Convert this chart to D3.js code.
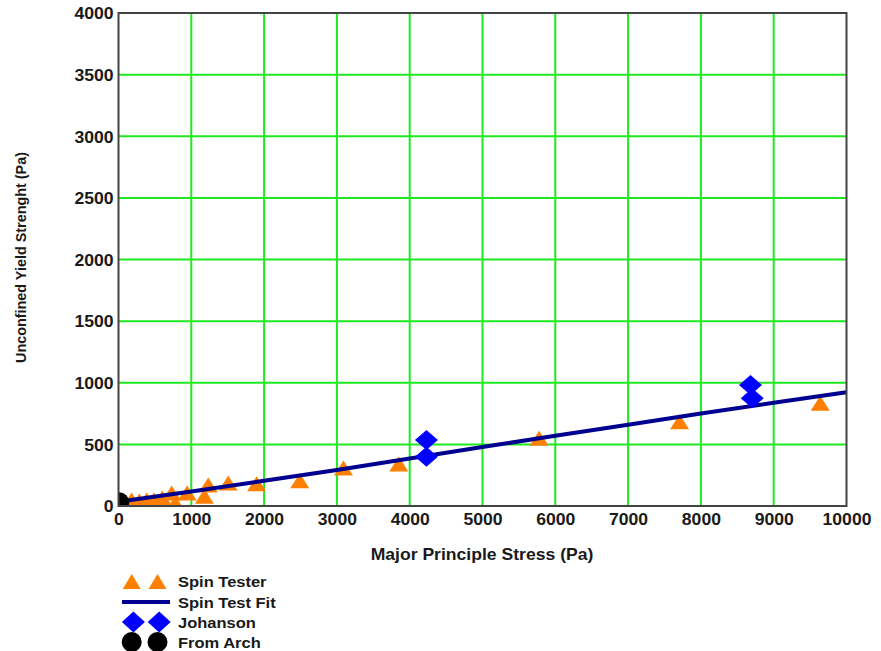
<!DOCTYPE html>
<html>
<head>
<meta charset="utf-8">
<script src="https://cdn.jsdelivr.net/npm/d3@7"></script>
<style>
  body { margin: 0; background: #fff; }
  text { font-family: "Liberation Sans", Arial, sans-serif; font-weight: bold; fill: #1a1a1a; }
</style>
</head>
<body>
<svg id="mainSvg" width="881" height="651"></svg>
<script>
// data
var xTicks = [0, 1000, 2000, 3000, 4000, 5000, 6000, 7000, 8000, 9000, 10000];
var yTicks = [0, 500, 1000, 1500, 2000, 2500, 3000, 3500, 4000];

var spinX = [180, 285, 387, 487, 601, 730, 780, 944, 1180, 1233, 1507, 1897, 2490, 3090, 3850, 5777, 7707, 9639];
var spinY = [49, 41, 49, 49, 65, 105, 25, 105, 80, 170, 187, 180, 205, 308, 341, 549, 684, 834];

var fitX = [0, 1000, 2000, 3000, 4000, 5000, 6000, 7000, 8000, 9000, 10000];
var fitY = [35, 118, 205, 292, 385, 478, 570, 660, 750, 838, 923];

var johX = [4230, 4230, 8681, 8705];
var johY = [535, 400, 982, 874];

var archX = [10];
var archY = [30];

var legendNames = ["Spin Tester", "Spin Test Fit", "Johanson", "From Arch"];

var orange = "#ff8000", navy = "#000090", blue = "#0000ff", green = "#1ee81e";

var svg = d3.select("#mainSvg");
var plotL = 118.5, plotR = 846.5, plotT = 13, plotB = 506;
var x = d3.scaleLinear().domain([0, 10000]).range([plotL, plotR]);
var y = d3.scaleLinear().domain([0, 4000]).range([plotB, plotT]);

//marker paths, centred on 0,0
function triPath(w, h) { return "M0," + (-h / 2) + "L" + (w / 2) + "," + (h / 2) + "L" + (-w / 2) + "," + (h / 2) + "Z"; }
function diaPath(w, h) { return "M0," + (-h / 2) + "L" + (w / 2) + ",0L0," + (h / 2) + "L" + (-w / 2) + ",0Z"; }

//text helper, fonts in the picture are a bit stretched sideways
function label(g, tx, ty, str, anchor, size) {
    return g.append("text").attr("transform", "translate(" + tx + "," + ty + ") scale(1.1,1)")
        .attr("text-anchor", anchor).style("font-size", size + "px").text(str);
}

svg.append("defs").append("clipPath").attr("id", "plotClip")
    .append("rect").attr("x", plotL).attr("y", plotT).attr("width", plotR - plotL).attr("height", plotB - plotT);

//grid
var grid = svg.append("g");
grid.selectAll(".gx").data(xTicks.slice(1, -1)).enter().append("line")
    .attr("x1", function (d) { return x(d); }).attr("x2", function (d) { return x(d); })
    .attr("y1", plotT).attr("y2", plotB).style("stroke", green).style("stroke-width", 2);
grid.selectAll(".gy").data(yTicks.slice(1, -1)).enter().append("line")
    .attr("y1", function (d) { return y(d); }).attr("y2", function (d) { return y(d); })
    .attr("x1", plotL).attr("x2", plotR).style("stroke", green).style("stroke-width", 2);

//axes, only labels (no tick marks in the picture)
var xAxis = d3.axisBottom(x).tickValues(xTicks).tickSize(0).tickPadding(8).tickFormat(d3.format("d"));
var yAxis = d3.axisLeft(y).tickValues(yTicks).tickSize(0).tickPadding(6).tickFormat(d3.format("d"));
var gx = svg.append("g").attr("transform", "translate(0," + plotB + ")").call(xAxis);
var gy = svg.append("g").attr("transform", "translate(" + plotL + ",0)").call(yAxis);
[gx, gy].forEach(function (g) {
    g.select(".domain").remove();
    g.selectAll("text").style("font-family", "Liberation Sans, Arial, sans-serif").style("font-weight", "bold")
        .style("font-size", "16px").attr("fill", "#1a1a1a");
});
gx.selectAll(".tick text").attr("y", 8).attr("dy", "0.71em").attr("transform", "scale(1.1,1)");
gy.selectAll(".tick text").attr("x", 0).attr("dy", "0.36em").attr("transform", "translate(-5,0) scale(1.1,1)");

//data layer
var plot = svg.append("g").attr("clip-path", "url(#plotClip)");
var spinData = spinX.map(function (d, i) { return {x: d, y: spinY[i]}; });
plot.selectAll(".spin").data(spinData).enter().append("path")
    .attr("d", triPath(19, 15))
    .attr("transform", function (d) { return "translate(" + x(d.x) + "," + y(d.y) + ")"; })
    .style("fill", orange);

var fitData = fitX.map(function (d, i) { return {x: d, y: fitY[i]}; });
plot.append("path").datum(fitData)
    .attr("d", d3.line().x(function (d) { return x(d.x); }).y(function (d) { return y(d.y); }))
    .style("fill", "none").style("stroke", navy).style("stroke-width", 4);

var johData = johX.map(function (d, i) { return {x: d, y: johY[i]}; });
plot.selectAll(".joh").data(johData).enter().append("path")
    .attr("d", diaPath(23, 20))
    .attr("transform", function (d) { return "translate(" + x(d.x) + "," + y(d.y) + ")"; })
    .style("fill", blue);

var archData = archX.map(function (d, i) { return {x: d, y: archY[i]}; });
plot.selectAll(".arch").data(archData).enter().append("circle")
    .attr("cx", function (d) { return x(d.x); }).attr("cy", function (d) { return y(d.y); })
    .attr("r", 10).style("fill", "#000");

//frame
svg.append("rect").attr("x", plotL).attr("y", plotT).attr("width", plotR - plotL).attr("height", plotB - plotT)
    .style("fill", "none").style("stroke", "#444").style("stroke-width", 2);

//axis titles
label(svg, 482, 560, "Major Principle Stress (Pa)", "middle", 16);
svg.append("text").attr("transform", "translate(26,257.5) rotate(-90)")
    .attr("text-anchor", "middle").style("font-size", "14px")
    .attr("textLength", 211).attr("lengthAdjust", "spacingAndGlyphs")
    .text("Unconfined Yield Strenght (Pa)");

//legend
var leg = svg.append("g");
var rowY = [581.5, 602, 622, 642];
[131.7, 157.5].forEach(function (cx) {
    leg.append("path").attr("d", triPath(18, 15)).attr("transform", "translate(" + cx + "," + rowY[0] + ")").style("fill", orange);
    leg.append("path").attr("d", diaPath(23, 21)).attr("transform", "translate(" + (cx + 1.7) + "," + rowY[2] + ")").style("fill", blue);
    leg.append("circle").attr("cx", cx).attr("cy", rowY[3]).attr("r", 10).style("fill", "#000");
});
leg.append("line").attr("x1", 122).attr("x2", 170).attr("y1", rowY[1]).attr("y2", rowY[1])
    .style("stroke", navy).style("stroke-width", 4);
legendNames.forEach(function (n, i) {
    label(leg, 178, rowY[i] + 5.5, n, "start", 15);
});
</script>
</body>
</html>
